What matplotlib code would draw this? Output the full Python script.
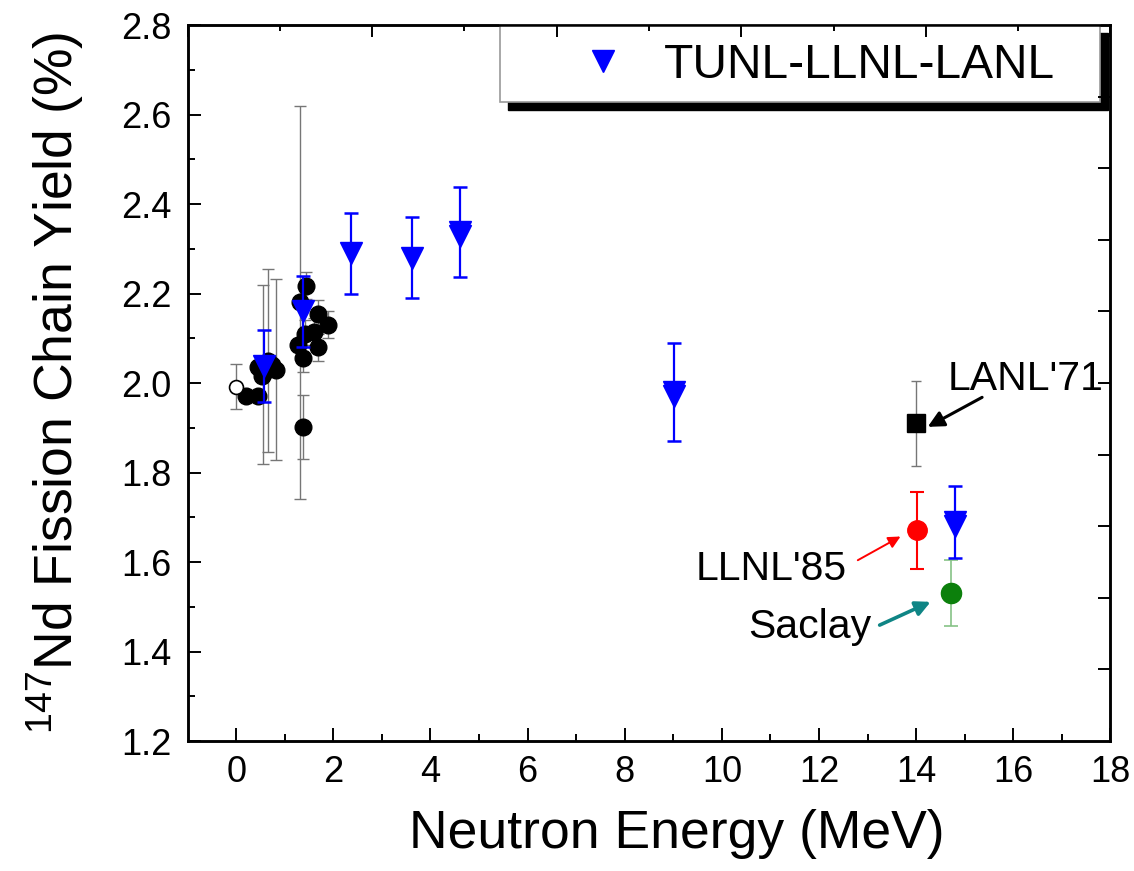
import numpy as np
import matplotlib
matplotlib.use('Agg')
import matplotlib.pyplot as plt
from matplotlib.patches import Rectangle
from matplotlib.lines import Line2D
from matplotlib.ticker import FixedLocator, FormatStrFormatter

plt.rcParams['font.family'] = ['Liberation Sans', 'DejaVu Sans']
plt.rcParams['mathtext.fontset'] = 'custom'
plt.rcParams['mathtext.rm'] = 'Liberation Sans'

# ---------------- data ----------------
open_E = [0.0]
open_Y = [1.992]
open_err = [0.05]

blk_E = [0.21, 0.45, 0.44, 0.55, 0.65, 0.73, 0.81, 0.52, 1.31, 1.44, 1.27, 1.37, 1.68, 1.89, 1.68, 1.61, 1.37, 1.42]
blk_Y = [1.97, 1.97, 2.035, 2.02, 2.05, 2.04, 2.03, 2.016, 2.18, 2.217, 2.085, 2.055, 2.155, 2.13, 2.08, 2.115, 1.902, 2.11]
blk_err = [0.0, 0.0, 0.0, 0.20, 0.205, 0.0, 0.203, 0.0, 0.44, 0.03, 0.0, 0.03, 0.03, 0.03, 0.03, 0.03, 0.072, 0.03]

tunl_E = [0.58, 1.37, 2.37, 3.61, 4.60, 4.60, 9.02, 9.02, 14.81, 14.81]
tunl_Y = [2.038, 2.16, 2.29, 2.28, 2.338, 2.328, 1.98, 1.97, 1.69, 1.68]
tunl_err = [0.08, 0.08, 0.09, 0.09, 0.10, 0.0, 0.109, 0.0, 0.08, 0.0]

lanl_E = [14.0]
lanl_Y = [1.91]
lanl_err = [0.095]

llnl_E = [14.02]
llnl_Y = [1.671]
llnl_err = [0.086]

saclay_E = [14.71]
saclay_Y = [1.53]
saclay_err = [0.074]

x_ticks = [0, 2, 4, 6, 8, 10, 12, 14, 16, 18]
y_ticks = [1.2, 1.4, 1.6, 1.8, 2.0, 2.2, 2.4, 2.6, 2.8]

# ---------------- figure ----------------
fig = plt.figure(figsize=(11.34, 8.71), dpi=100)
ax = fig.add_axes([0.16552, 0.14925, 0.81358, 0.82204])

gray = '#767676'

# black points with error bars
be = np.array(blk_err)
bE = np.array(blk_E); bY = np.array(blk_Y)
m = be > 0
ax.errorbar(bE[m], bY[m], yerr=be[m], fmt='none', ecolor=gray, elinewidth=1.0,
            capsize=4.3, capthick=1.0, zorder=2)
ax.errorbar(open_E, open_Y, yerr=open_err, fmt='none', ecolor=gray, elinewidth=1.0,
            capsize=4.3, capthick=1.0, zorder=2)
ax.plot(blk_E, blk_Y, ls='none', marker='o', ms=12, color='black', zorder=3)
ax.plot(open_E, open_Y, ls='none', marker='o', ms=10, mfc='white', mec='black',
        mew=1.2, zorder=3)

# LANL'71
ax.errorbar(lanl_E, lanl_Y, yerr=lanl_err, fmt='none', ecolor=gray, elinewidth=1.0,
            capsize=3.6, capthick=1.0, zorder=2)
ax.plot(lanl_E, lanl_Y, ls='none', marker='s', ms=12.5, color='black', zorder=3)

# LLNL'85
ax.errorbar(llnl_E, llnl_Y, yerr=llnl_err, fmt='none', ecolor='#ff0000', elinewidth=1.5,
            capsize=5, capthick=1.5, zorder=2)
ax.plot(llnl_E, llnl_Y, ls='none', marker='o', ms=14, color='#ff0000', zorder=3)

# Saclay
ax.errorbar(saclay_E, saclay_Y, yerr=saclay_err, fmt='none', ecolor='#86c286',
            elinewidth=1.2, capsize=5.2, capthick=1.2, zorder=2)
ax.plot(saclay_E, saclay_Y, ls='none', marker='o', ms=14.5, color='#0c800c', zorder=3)

# TUNL-LLNL-LANL
te = np.array(tunl_err)
tE = np.array(tunl_E); tY = np.array(tunl_Y)
mt = te > 0
ax.errorbar(tE[mt], tY[mt], yerr=te[mt], fmt='none', ecolor='#0000ff', elinewidth=1.6,
            capsize=5, capthick=1.8, zorder=4)
ax.plot(tunl_E, tunl_Y, ls='none', marker='v', ms=16, color='#0000ff', zorder=4)

# annotations
ann_fs = 29.5
ax.text(14.64, 1.984, "LANL'71", fontsize=ann_fs, ha='left', va='baseline', color='black')
ax.text(9.45, 1.56, "LLNL'85", fontsize=ann_fs, ha='left', va='baseline', color='black')
ax.text(10.54, 1.43, "Saclay", fontsize=ann_fs, ha='left', va='baseline', color='black')

ax.annotate('', xy=(14.24, 1.902), xytext=(15.36, 1.968),
            arrowprops=dict(arrowstyle='-|>', color='black', lw=2.2,
                            mutation_scale=24, shrinkA=0, shrinkB=0))
ax.annotate('', xy=(13.68, 1.657), xytext=(12.80, 1.604),
            arrowprops=dict(arrowstyle='-|>', color='#ff0000', lw=1.4,
                            mutation_scale=18, shrinkA=0, shrinkB=0))
ax.annotate('', xy=(14.30, 1.511), xytext=(13.25, 1.459),
            arrowprops=dict(arrowstyle='-|>', color='#0f8585', lw=2.6,
                            mutation_scale=22, shrinkA=0, shrinkB=0))

# axes limits / ticks
ax.set_xlim(-1, 18)
ax.set_ylim(1.2, 2.8)
ax.xaxis.set_major_locator(FixedLocator(x_ticks))
ax.xaxis.set_minor_locator(FixedLocator(np.arange(1, 18, 2)))
ax.yaxis.set_major_locator(FixedLocator(y_ticks))
ax.yaxis.set_minor_locator(FixedLocator(np.arange(1.3, 2.8, 0.2)))
ax.yaxis.set_major_formatter(FormatStrFormatter('%.1f'))
ax.tick_params(which='both', direction='in', top=False, right=False,
               labelsize=26, width=1.4)
ax.tick_params(which='major', length=9.4)
ax.tick_params(which='minor', length=5)
ax.tick_params(axis='x', pad=10)
ax.tick_params(axis='y', pad=11.5)

# labels
ax.set_xlabel('Neutron Energy (MeV)', fontsize=38.5)
ax.xaxis.set_label_coords(0.530, -0.095)
ax.set_ylabel(r'$^{\mathregular{147}}$Nd Fission Chain Yield (%)', fontsize=38.5)
ax.yaxis.set_label_coords(-0.11, 0.5)

# legend box with shadow
bx0, by0, bw, bh = 0.3385, 0.8925, 0.6503, 0.1075
sdx, sdy = 8 / 922.6, 8 / 716
ax.add_patch(Rectangle((bx0 + sdx, by0 - sdy), bw, bh, transform=ax.transAxes,
                       facecolor='black', edgecolor='black', zorder=6, clip_on=False))
ax.add_patch(Rectangle((bx0, by0), bw, bh, transform=ax.transAxes,
                       facecolor='white', edgecolor='#9a9a9a', lw=1.2, zorder=6.1,
                       clip_on=False))
handle = Line2D([], [], ls='none', marker='v', ms=16, color='#0000ff')
leg = ax.legend([handle], ['TUNL-LLNL-LANL'], loc='center left',
                bbox_to_anchor=(0.4242, 0.944), frameon=False, borderpad=0,
                borderaxespad=0, handlelength=1.0, handletextpad=0.77, fontsize=34.5)
leg.set_zorder(7)

# secondary decorative tick frame (top and right), drawn above the legend box
ax_top = fig.add_axes(ax.get_position(), zorder=5)
ax_top.patch.set_visible(False)
ax_top.set_xlim(0, 10)
ax_top.set_ylim(0, 10)
ax_top.xaxis.set_major_locator(FixedLocator(np.arange(0, 11, 2)))
ax_top.xaxis.set_minor_locator(FixedLocator(np.arange(1, 10, 2)))
ax_top.yaxis.set_major_locator(FixedLocator(np.arange(1, 10)))
ax_top.yaxis.set_minor_locator(FixedLocator([]))
ax_top.tick_params(which='both', direction='in', top=True, bottom=False,
                   left=False, right=True, labeltop=False, labelbottom=False,
                   labelleft=False, labelright=False, width=1.4, color='black')
ax_top.tick_params(which='major', length=8.6)
ax_top.tick_params(which='minor', length=4)

for a in (ax, ax_top):
    for s in a.spines.values():
        s.set_linewidth(1.8)

fig.savefig('out.png', dpi=100)
